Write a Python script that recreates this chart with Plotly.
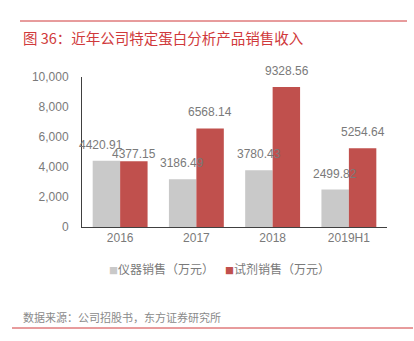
import plotly.graph_objects as go

categories = ["2016", "2017", "2018", "2019H1"]
instrument = [4420.91, 3186.49, 3780.43, 2499.82]
reagent = [4377.15, 6568.14, 9328.56, 5254.64]
series_names = ["仪器销售（万元）", "试剂销售（万元）"]
y_ticks = [0, 2000, 4000, 6000, 8000, 10000]
y_tick_text = ["0", "2,000", "4,000", "6,000", "8,000", "10,000"]

GRAY = "#c9c9c9"
RED = "#c0504d"
LINE_RED = "#d0393b"
TXT = "#7a7a7a"
NUM_FONT = "Liberation Sans, Arial, sans-serif"
CJK_FONT = "Noto Sans CJK SC, sans-serif"

W, H = 414, 341
L, R, T, B = 82, 27, 77, 114
pw, ph = W - L - R, H - T - B


def px(x):
    return (x - L) / pw


def py(y):
    return (H - B - y) / ph


fig = go.Figure()
fig.add_bar(x=categories, y=instrument, name=series_names[0], marker_color=GRAY,
            marker_line_width=0, showlegend=False)
fig.add_bar(x=categories, y=reagent, name=series_names[1], marker_color=RED,
            marker_line_width=0, showlegend=False)

annotations = []
for i, c in enumerate(categories):
    gx = -5 if i == 0 else 0
    annotations.append(dict(x=i, y=instrument[i], xref="x", yref="y", text=f"{instrument[i]:.2f}",
                            showarrow=False, xshift=-14 + gx, yshift=16,
                            font=dict(family=NUM_FONT, size=12, color=TXT)))
    rshift = 7 if i == 0 else 16
    annotations.append(dict(x=i, y=reagent[i], xref="x", yref="y", text=f"{reagent[i]:.2f}",
                            showarrow=False, xshift=14, yshift=rshift,
                            font=dict(family=NUM_FONT, size=12, color=TXT)))

# title
annotations.append(dict(xref="paper", yref="paper", x=px(21), y=py(37), xanchor="left",
                        yanchor="middle", showarrow=False, text="图 36：近年公司特定蛋白分析产品销售收入",
                        font=dict(family=CJK_FONT, size=14.5, color=LINE_RED)))
# legend (manual)
annotations.append(dict(xref="paper", yref="paper", x=px(107), y=py(268), xanchor="left",
                        yanchor="middle", showarrow=False,
                        text=f"<span style='color:{GRAY};font-size:9px'>■</span>{series_names[0]}",
                        font=dict(family=CJK_FONT, size=12, color=TXT)))
annotations.append(dict(xref="paper", yref="paper", x=px(223), y=py(268), xanchor="left",
                        yanchor="middle", showarrow=False,
                        text=f"<span style='color:{RED};font-size:9px'>■</span>{series_names[1]}",
                        font=dict(family=CJK_FONT, size=12, color=TXT)))
# source
annotations.append(dict(xref="paper", yref="paper", x=px(21), y=py(317), xanchor="left",
                        yanchor="middle", showarrow=False, text="数据来源：公司招股书，东方证券研究所",
                        font=dict(family=CJK_FONT, size=11, color="#8a8a8a")))

shapes = [
    dict(type="line", xref="paper", yref="paper", x0=px(20), x1=px(407), y0=py(21), y1=py(21),
         line=dict(color=LINE_RED, width=1)),
    dict(type="line", xref="paper", yref="paper", x0=px(12), x1=px(413), y0=py(328), y1=py(328),
         line=dict(color=LINE_RED, width=1)),
]

fig.update_layout(
    width=W, height=H, margin=dict(l=L, r=R, t=T, b=B),
    paper_bgcolor="white", plot_bgcolor="white",
    barmode="group", bargap=0.28, bargroupgap=0,
    showlegend=False,
    annotations=annotations, shapes=shapes,
    font=dict(family=NUM_FONT, size=12, color=TXT),
)
fig.update_xaxes(type="category", range=[-0.5, len(categories) - 0.5], showline=True,
                 linecolor="#404040", linewidth=1, showgrid=False,
                 ticks="", tickfont=dict(family=NUM_FONT, size=12, color=TXT))
fig.update_yaxes(range=[0, 10000], tickvals=y_ticks, ticktext=y_tick_text, showline=True,
                 linecolor="#404040", linewidth=1, showgrid=False, zeroline=False, ticks="",
                 ticklabelstandoff=10, tickfont=dict(family=NUM_FONT, size=12, color=TXT))

fig.write_html("out.html")
